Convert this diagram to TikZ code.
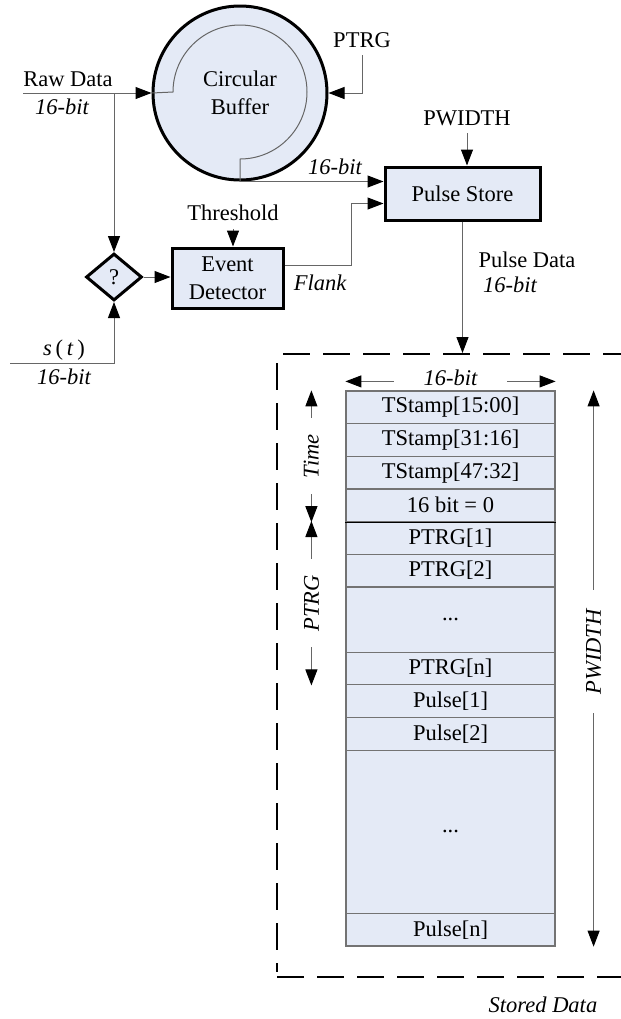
\documentclass[tikz,border=0pt]{standalone}
\usepackage{fontspec}
\setmainfont{Liberation Serif}
\usetikzlibrary{arrows.meta,shapes.geometric,calc}
\renewcommand\normalsize{\fontsize{11.25pt}{14pt}\selectfont}
\newcommand\rowdots{...}

\definecolor{bcol}{RGB}{228,234,246}
\colorlet{lcol}{black!60}
\tikzset{
  blk/.style={draw=black, line width=1.5pt, fill=bcol, align=center, inner sep=2pt},
  conn/.style={-{Triangle[length=8pt,width=6pt,color=black]}, draw=lcol, line width=0.5pt},
  dim arrow/.style={{Triangle[length=8pt,width=6pt,color=black]}-{Triangle[length=8pt,width=6pt,color=black]},
                    draw=lcol, line width=0.5pt},
  cell/.style={draw=black!55, fill=bcol, line width=0.6pt, minimum width=104.5pt, inner sep=0},
}

\begin{document}
\begin{tikzpicture}[x=0.5pt, y=-0.5pt,
      gaplbl/.style={fill=white, font=\itshape, inner xsep=8pt, inner ysep=1pt},
      frame/.style={line width=1pt, dash pattern=on 13.5pt off 6.5pt},
    ]
    \useasboundingbox (0,0) rectangle (621,1019);
    \def\rh{32.65}

    % ======== PROCESSING CHAIN ========
    \node[blk, circle, minimum size=87pt, inner sep=0] (buf) at (240,93) {Circular\\Buffer};
    \draw[lcol, line width=0.5pt] (buf.west) -- (173,92)
      arc[start angle=180, end angle=-90, radius=33.5pt] -- (buf.south);

    \node[blk, minimum width=77.5pt, minimum height=26.5pt] (store) at (462.5,193.5) {Pulse Store};
    \node[blk, minimum width=55.5pt, minimum height=30pt] (det) at (227.5,278) {Event\\Detector};
    \node[blk, diamond, minimum width=28pt, minimum height=23.5pt, inner sep=0] (cmp) at (114,277) {?};

    % inputs
    \coordinate (rawin) at (23,93);
    \coordinate (rawtap) at (114,93);
    \coordinate (sin) at (10,363);
    \node (rawlbl) at (68,79) {Raw Data};
    \node[font=\itshape] (rawbit) at (62,107) {16-bit};
    \node (slbl) at (64,350) {\textit{s}\,(\,\textit{t}\,)};
    \node[font=\itshape] (sbit) at (64,377) {16-bit};
    \node (ptrg) at (362,40) {PTRG};
    \node (pw) at (467,118) {PWIDTH};
    \node (thr) at (233,213) {Threshold};

    \draw[conn] (rawin) -- (buf.west);
    \draw[conn] (rawtap) -- (cmp.north);
    \draw[conn] (sin) -| (cmp.south);
    \draw[conn] (ptrg.south) |- (buf.east);
    \draw[conn] (pw.south) -- (pw.south |- store.north);
    \draw[conn] (thr.south) -- (thr.south |- det.north);
    \draw[conn] (cmp.east) -- (cmp.east -| det.west);

    % into the pulse store
    \draw[conn] (buf.south) -- (buf.south -| store.west);
    \node[font=\itshape] (bufbit) at (335,167) {16-bit};
    \draw[conn] ($(det.east)+(0,-13)$) -- ++(67,0) |- ($(store.west)+(0,10)$);
    \node[font=\itshape] (flank) at (320,283) {Flank};

    % out of the pulse store
    \coordinate (memin) at (store.south |- {(0,353)});
    \draw[conn] (store.south) -- (memin);
    \node (pdlbl) at (527,260) {Pulse Data};
    \node[font=\itshape] (pdbit) at (510,285) {16-bit};

    % ======== STORED DATA ========
    \draw[frame] (283,354) -- (621,354);
    \draw[frame] (277,363) -- (277,972);
    \draw[frame] (277,977) -- (621,977);
    \node[font=\itshape] (stored) at (543,1005) {Stored Data};

    \foreach \r/\u/\txt [count=\k] in {0/1/TStamp[15:00], 1/1/TStamp[31:16], 2/1/TStamp[47:32],
        3/1/16 bit = 0, 4/1/PTRG[1], 5/1/PTRG[2], 6/2/\rowdots, 8/1/PTRG[n],
        9/1/Pulse[1], 10/1/Pulse[2], 11/5/\rowdots, 16/1/Pulse[n]} {
      \pgfmathsetmacro{\cy}{391+(\r+\u/2)*\rh}
      \node[cell, minimum height=\u*16.325pt] (row\k) at (450.5,\cy) {\txt};
    }
    \draw[line width=0.6pt] (row4.south west) -- (row4.south east);

    % dimensions
    \draw[dim arrow] ([yshift=4.5pt]row1.north west) --
      node[gaplbl, inner xsep=15pt, yshift=2pt] {16-bit} ([yshift=4.5pt]row1.north east);
    \draw[dim arrow] ([xshift=-17pt]row1.north west) --
      node[gaplbl, rotate=90] {Time} ([xshift=-17pt]row4.south west);
    \draw[dim arrow] ([xshift=-17pt]row5.north west) --
      node[gaplbl, rotate=90] {PTRG} ([xshift=-17pt]row8.south west);
    \draw[dim arrow] ([xshift=19pt]row1.north east) --
      node[gaplbl, rotate=90, pos=0.47, inner xsep=9.5pt] {PWIDTH} ([xshift=19pt]row12.south east);

  \end{tikzpicture}
\end{document}
